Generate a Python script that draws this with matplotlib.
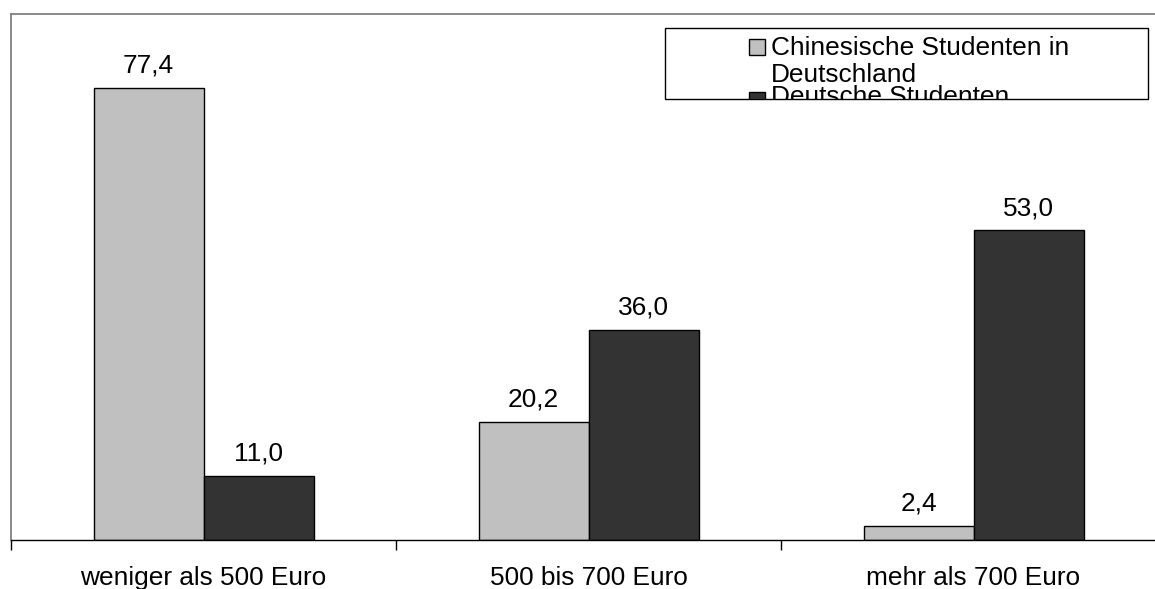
import matplotlib
matplotlib.use("Agg")
import matplotlib.pyplot as plt
from matplotlib.patches import Rectangle
import numpy as np

plt.rcParams['font.family'] = ['Liberation Sans', 'DejaVu Sans']

categories = ["weniger als 500 Euro", "500 bis 700 Euro", "mehr als 700 Euro"]
series_names = ["Chinesische Studenten in\nDeutschland", "Deutsche Studenten"]
chinese = [77.4, 20.2, 2.4]
german = [11.0, 36.0, 53.0]
colors = ["#C0C0C0", "#333333"]

FS = 18.9
W, H = 1155, 589
fig = plt.figure(figsize=(W / 100, H / 100), dpi=100)
ax = fig.add_axes([11 / W, (H - 540) / H, 1155 / W, (540 - 14) / H])

x = np.arange(len(categories))
bw = 110 / 385
b1 = ax.bar(x - bw / 2, chinese, bw, color=colors[0], edgecolor="black", linewidth=1)
b2 = ax.bar(x + bw / 2, german, bw, color=colors[1], edgecolor="black", linewidth=1)

for bars, vals in ((b1, chinese), (b2, german)):
    for r, v in zip(bars, vals):
        ax.annotate(f"{v:.1f}".replace(".", ","), (r.get_x() + r.get_width() / 2, v),
                    xytext=(0, 10.8), textcoords="offset points", ha="center", va="baseline",
                    fontsize=FS)

ax.set_xlim(-0.5, 2.5)
ax.set_ylim(0, 90)
ax.set_yticks([])
ax.set_xticks([-0.5, 0.5, 1.5, 2.5])
ax.set_xticklabels([])
ax.tick_params(axis="x", which="major", length=7, width=1, direction="out", color="black")
ax.set_xticks(x, minor=True)
ax.set_xticklabels(categories, minor=True, fontsize=FS)
ax.tick_params(axis="x", which="minor", length=0, pad=19)

for s in ("left", "top", "right"):
    ax.spines[s].set_color("#808080")
    ax.spines[s].set_linewidth(1.3)
ax.spines["bottom"].set_color("black")
ax.spines["bottom"].set_linewidth(1)

# Legend box (content clipped by the frame, as in the original)
lx0, lx1, ly0, ly1 = 665, 1148, 28, 99
tf = fig.transFigure
frame = Rectangle((lx0 / W, 1 - ly1 / H), (lx1 - lx0) / W, (ly1 - ly0) / H,
                  transform=tf, facecolor="white", edgecolor="black", linewidth=1, zorder=5)
fig.patches.append(frame)
clip = Rectangle((lx0 / W, 1 - ly1 / H), (lx1 - lx0) / W, (ly1 - ly0) / H,
                 transform=tf, facecolor="none", edgecolor="none")
fig.patches.append(clip)

# (square top px, first baseline px) for each legend entry
entry_pos = [(39, 55), (92, 104)]
line_step = 27
for name, col, (sq_top, base) in zip(series_names, colors, entry_pos):
    sq = Rectangle((749 / W, 1 - (sq_top + 16) / H), 16 / W, 16 / H, transform=tf,
                   facecolor=col, edgecolor="black", linewidth=1, zorder=6)
    sq.set_clip_path(clip)
    fig.patches.append(sq)
    for i, line in enumerate(name.split("\n")):
        t = fig.text(771 / W, 1 - (base + i * line_step) / H, line, fontsize=FS,
                     ha="left", va="baseline", zorder=7)
        t.set_clip_path(clip)

fig.savefig("out.png", dpi=100)
